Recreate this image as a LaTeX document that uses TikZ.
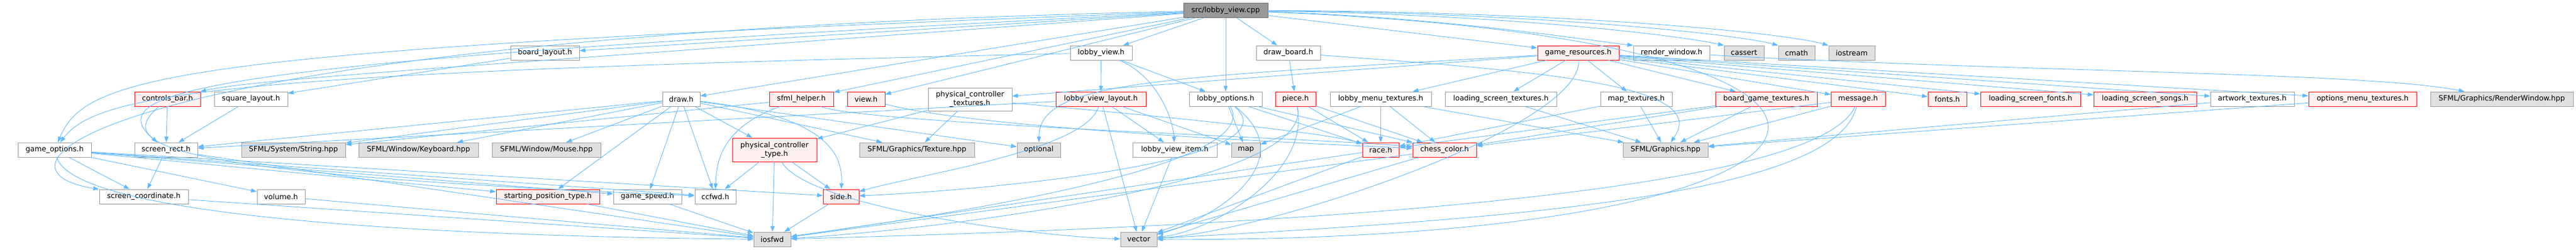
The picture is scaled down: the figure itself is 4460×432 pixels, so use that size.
\documentclass[tikz,border=0pt]{standalone}
\usepackage{fontspec}
\setmainfont{DejaVu Sans}
\usetikzlibrary{arrows.meta}

\definecolor{edgeblue}{HTML}{63B8FF}
\definecolor{nodegray}{HTML}{999999}
\definecolor{sysfill}{HTML}{E0E0E0}
\definecolor{redfill}{HTML}{FFF0F0}
\definecolor{rootfill}{HTML}{999999}
\definecolor{rootline}{HTML}{666666}

\begin{document}
\begin{tikzpicture}[x=1pt, y=-1pt, >={Triangle[length=10pt,width=7pt]},
    hdr/.style={draw=nodegray, fill=white, line width=0.9pt, inner sep=0pt,
        minimum height=25pt, align=center, font=\fontsize{12.6}{15}\selectfont},
    redhdr/.style={hdr, draw=red, fill=redfill},
    syshdr/.style={hdr, fill=sysfill},
    roothdr/.style={hdr, draw=rootline, fill=rootfill},
    inc/.style={->, draw=edgeblue, line width=0.9pt}]

    \useasboundingbox (0,0) rectangle (4460,432);

    % top and first row
    \node[roothdr, minimum width=146pt] (cpp) at (2122,18) {src/lobby\_view.cpp};
    \node[hdr, minimum width=119pt] (blay) at (943.5,91.5) {board\_layout.h};
    \node[hdr, minimum width=107pt] (lvh) at (1906.5,91.5) {lobby\_view.h};
    \node[hdr, minimum width=111pt] (dboard) at (2230.5,91.5) {draw\_board.h};
    \node[redhdr, minimum width=141pt] (gres) at (2732.5,91.5) {game\_resources.h};
    \node[hdr, minimum width=132pt] (rwin) at (2894,91.5) {render\_window.h};
    \node[syshdr, minimum width=69pt] (cassert) at (3019.5,91.5) {cassert};
    \node[syshdr, minimum width=63pt] (cmath) at (3110.5,91.5) {cmath};
    \node[syshdr, minimum width=80pt] (iostream) at (3206,91.5) {iostream};

    % second row
    \node[redhdr, minimum width=114pt] (cbar) at (290,171.5) {controls\_bar.h};
    \node[hdr, minimum width=127pt] (sqlay) at (434.5,171.5) {square\_layout.h};
    \node[hdr, minimum width=65pt] (drawh) at (1179.5,171.5) {draw.h};
    \node[redhdr, minimum width=111pt] (sfmlh) at (1387.5,171.5) {sfml\_helper.h};
    \node[redhdr, minimum width=65pt] (viewh) at (1499.5,171.5) {view.h};
    \node[hdr, minimum width=145pt, minimum height=40pt] (pctex) at (1679.5,172) {physical\_controller\\\_textures.h};
    \node[redhdr, minimum width=156pt] (lvlay) at (1906,171.5) {lobby\_view\_layout.h};
    \node[hdr, minimum width=126pt] (lopt) at (2122,171.5) {lobby\_options.h};
    \node[redhdr, minimum width=70pt] (piece) at (2243,171.5) {piece.h};
    \node[hdr, minimum width=175pt] (lmtex) at (2390.5,171.5) {lobby\_menu\_textures.h};
    \node[hdr, minimum width=193pt] (lstex) at (2598.5,171.5) {loading\_screen\_textures.h};
    \node[hdr, minimum width=124pt] (maptex) at (2833,171.5) {map\_textures.h};
    \node[redhdr, minimum width=176pt] (bgtex) at (3058,171.5) {board\_game\_textures.h};
    \node[redhdr, minimum width=94pt] (msg) at (3217,171.5) {message.h};
    \node[redhdr, minimum width=67pt] (fonts) at (3371.5,171.5) {fonts.h};
    \node[redhdr, minimum width=173pt] (lsfonts) at (3515.5,171.5) {loading\_screen\_fonts.h};
    \node[redhdr, minimum width=178pt] (lssongs) at (3714,171.5) {loading\_screen\_songs.h};
    \node[hdr, minimum width=145pt] (arttex) at (3899.5,171.5) {artwork\_textures.h};
    \node[redhdr, minimum width=187pt] (omtex) at (4090.5,171.5) {options\_menu\_textures.h};
    \node[syshdr, minimum width=247pt] (rwhpp) at (4331.5,171.5) {SFML/Graphics/RenderWindow.hpp};

    % third row
    \node[hdr, minimum width=127pt] (gopt) at (94.5,259.5) {game\_options.h};
    \node[hdr, minimum width=109pt] (srect) at (287.5,259.5) {screen\_rect.h};
    \node[syshdr, minimum width=180pt] (sstr) at (508,259.5) {SFML/System/String.hpp};
    \node[syshdr, minimum width=207pt] (skey) at (724.5,259.5) {SFML/Window/Keyboard.hpp};
    \node[syshdr, minimum width=188pt] (smouse) at (946,259.5) {SFML/Window/Mouse.hpp};
    \node[redhdr, minimum width=146pt, minimum height=41pt] (pctype) at (1341,259.5) {physical\_controller\\\_type.h};
    \node[syshdr, minimum width=199pt] (stex) at (1587.5,259.5) {SFML/Graphics/Texture.hpp};
    \node[syshdr, minimum width=75pt] (optional) at (1798.5,259.5) {optional};
    \node[hdr, minimum width=146pt] (lvitem) at (2034,259.5) {lobby\_view\_item.h};
    \node[syshdr, minimum width=50pt] (map) at (2157,259.5) {map};
    \node[redhdr, minimum width=63pt] (race) at (2390.5,259.5) {race.h};
    \node[redhdr, minimum width=110pt] (ccol) at (2501,259.5) {chess\_color.h};
    \node[syshdr, minimum width=147pt] (sgfx) at (2883.5,259.5) {SFML/Graphics.hpp};

    % fourth and fifth row
    \node[hdr, minimum width=154pt] (scoord) at (249,340.5) {screen\_coordinate.h};
    \node[hdr, minimum width=83pt] (volume) at (486.5,340.5) {volume.h};
    \node[redhdr, minimum width=179pt] (sptype) at (948.5,340.5) {starting\_position\_type.h};
    \node[hdr, minimum width=118pt] (gspeed) at (1121,340.5) {game\_speed.h};
    \node[hdr, minimum width=71pt] (ccfwd) at (1238.5,340.5) {ccfwd.h};
    \node[redhdr, minimum width=62pt] (side) at (1456,340.5) {side.h};
    \node[syshdr, minimum width=64pt] (iosfwd) at (1337,414.5) {iosfwd};
    \node[syshdr, minimum width=63pt] (vector) at (1971.5,414.5) {vector};

    % includes of the source file
    \draw[inc] (cpp) -- (lvh);
    \draw[inc] (cpp) -- (lopt);
    \draw[inc] (cpp) -- (dboard);
    \draw[inc] (cpp) -- (gres);
    \draw[inc] (cpp) .. controls (2500,30) and (2750,70) .. (rwin.north west);
    \draw[inc] (cpp) .. controls (2600,25) and (2900,60) .. (cassert.north west);
    \draw[inc] (cpp) .. controls (2650,22) and (3000,58) .. (cmath.north west);
    \draw[inc] (cpp) .. controls (2700,20) and (3080,55) .. (iostream.north west);
    \draw[inc] (cpp) -- (blay);
    \draw[inc] (cpp) -- (drawh);
    \draw[inc] (cpp) -- (sfmlh);
    \draw[inc] (cpp) -- (viewh);
    \draw[inc] (cpp) .. controls (900,110) and (450,135) .. (cbar);
    \draw[inc] (cpp) .. controls (300,85) and (150,130) .. (gopt);
    \draw[inc] (cpp) .. controls (400,105) and (160,150) .. (srect);
    \draw[inc] (cpp) .. controls (200,60) and (-60,290) .. (scoord);
    \draw[inc] (cpp) .. controls (3450,70) and (3300,420) .. (vector);

    \draw[inc] (lvh) -- (lvlay);
    \draw[inc] (lvh) .. controls (2000,130) and (2030,200) .. (lvitem);
    \draw[inc] (lvh) -- (lopt);
    \draw[inc] (lvh) .. controls (400,125) and (170,160) .. (gopt);

    \draw[inc] (blay) -- (sqlay);
    \draw[inc] (dboard) -- (piece);
    \draw[inc] (dboard) .. controls (2700,125) and (2960,150) .. (sgfx);

    \draw[inc] (gres) -- (lstex);
    \draw[inc] (gres) -- (maptex);
    \draw[inc] (gres) -- (lmtex);
    \draw[inc] (gres) -- (bgtex);
    \draw[inc] (gres) -- (msg);
    \draw[inc] (gres) -- (fonts);
    \draw[inc] (gres) -- (lsfonts);
    \draw[inc] (gres) -- (lssongs);
    \draw[inc] (gres) -- (arttex);
    \draw[inc] (gres) -- (omtex);
    \draw[inc] (gres) -- (pctex);
    \draw[inc] (gres) .. controls (2000,135) and (1800,140) .. (optional);
    \draw[inc] (gres) .. controls (2740,220) and (2200,400) .. (vector);
    \draw[inc] (rwin) .. controls (3500,125) and (4100,125) .. (rwhpp);

    \draw[inc] (lopt) -- (map);
    \draw[inc] (lopt) -- (race);
    \draw[inc] (lopt) -- (ccol);
    \draw[inc] (lopt) .. controls (2250,280) and (1700,330) .. (side);
    \draw[inc] (lopt) .. controls (2200,300) and (1500,390) .. (iosfwd);
    \draw[inc] (lopt) .. controls (2260,280) and (2100,380) .. (vector);

    \draw[inc] (lvlay) -- (lvitem);
    \draw[inc] (lvlay) -- (map);
    \draw[inc] (lvlay) -- (vector);
    \draw[inc] (lvlay) .. controls (1880,260) and (1600,300) .. (side);
    \draw[inc] (lvlay) -- (srect);
    \draw[inc] (lvitem) -- (vector);

    \draw[inc] (piece) -- (race);
    \draw[inc] (piece) -- (ccol);
    \draw[inc] (piece) .. controls (2270,300) and (2100,400) .. (vector);
    \draw[inc] (piece) .. controls (2280,320) and (1600,400) .. (iosfwd);
    \draw[inc] (lmtex) -- (race);
    \draw[inc] (lmtex) -- (ccol);
    \draw[inc] (lmtex) -- (sgfx);
    \draw[inc] (lmtex) -- (map);
    \draw[inc] (lstex) -- (sgfx);
    \draw[inc] (maptex) -- (sgfx);
    \draw[inc] (maptex) -- (race);
    \draw[inc] (bgtex) -- (sgfx);
    \draw[inc] (bgtex) -- (ccol);
    \draw[inc] (bgtex) -- (race);
    \draw[inc] (msg) -- (ccol);
    \draw[inc] (msg) -- (sgfx);
    \draw[inc] (msg) .. controls (3150,330) and (2300,390) .. (iosfwd);
    \draw[inc] (msg) .. controls (3180,340) and (2600,380) .. (vector);
    \draw[inc] (arttex) -- (sgfx);
    \draw[inc] (omtex) -- (sgfx);
    \draw[inc] (race) -- (iosfwd);
    \draw[inc] (race) -- (vector);
    \draw[inc] (ccol) -- (iosfwd);
    \draw[inc] (ccol) -- (vector);

    % left part
    \draw[inc] (cbar) -- (srect);
    \draw[inc] (cbar) .. controls (200,250) and (260,300) .. (ccfwd);
    \draw[inc] (sqlay) -- (srect);
    \draw[inc] (gopt) -- (scoord);
    \draw[inc] (gopt) -- (volume);
    \draw[inc] (gopt) -- (sptype);
    \draw[inc] (gopt) -- (gspeed);
    \draw[inc] (gopt) -- (ccfwd);
    \draw[inc] (gopt) -- (side);
    \draw[inc] (gopt) .. controls (130,380) and (800,410) .. (iosfwd);
    \draw[inc] (srect) -- (scoord);
    \draw[inc] (srect) -- (iosfwd);
    \draw[inc] (scoord) -- (iosfwd);
    \draw[inc] (volume) -- (iosfwd);
    \draw[inc] (sptype) -- (iosfwd);
    \draw[inc] (gspeed) -- (iosfwd);

    \draw[inc] (drawh) -- (sstr);
    \draw[inc] (drawh) -- (skey);
    \draw[inc] (drawh) -- (smouse);
    \draw[inc] (drawh) -- (gspeed);
    \draw[inc] (drawh) -- (ccfwd);
    \draw[inc] (drawh) -- (pctype);
    \draw[inc] (drawh) .. controls (1420,200) and (1460,260) .. (side);
    \draw[inc] (drawh) -- (srect);
    \draw[inc] (drawh) -- (stex);
    \draw[inc] (drawh) -- (optional);
    \draw[inc] (drawh) -- (sptype);
    \draw[inc] (sfmlh) .. controls (1250,220) and (1240,280) .. (ccfwd);
    \draw[inc] (sfmlh) -- (sstr);
    \draw[inc] (sfmlh) .. controls (1500,215) and (2300,240) .. (ccol);
    \draw[inc] (viewh) .. controls (1700,225) and (2300,250) .. (ccol);
    \draw[inc] (pctype) -- (ccfwd);
    \draw[inc] (pctype) -- (iosfwd);
    \draw[inc] (pctype) -- (side);
    \draw[inc] (pctype) .. controls (1400,360) and (1800,410) .. (vector);
    \draw[inc] (pctex) -- (stex);
    \draw[inc] (pctex) -- (pctype);
    \draw[inc] (pctex) .. controls (2000,200) and (2300,230) .. (race);
    \draw[inc] (side) -- (iosfwd);

\end{tikzpicture}
\end{document}
